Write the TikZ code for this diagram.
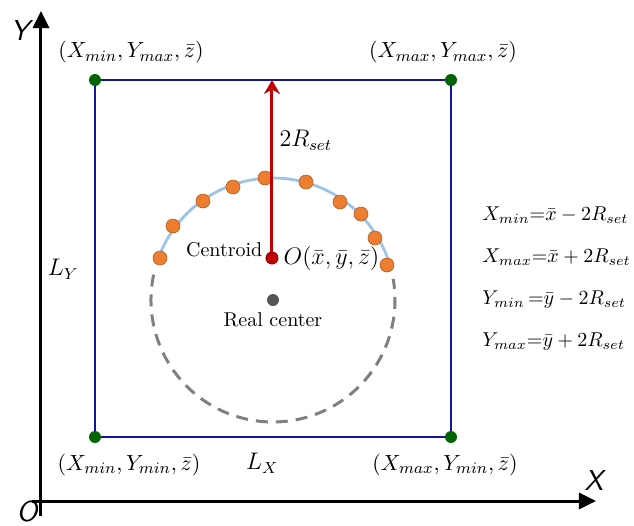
\documentclass[tikz,border=0pt]{standalone}
\usepackage{amsmath,amssymb}
\usepackage{xcolor}
\usepackage{tikz}
\usetikzlibrary{positioning,arrows.meta}
\definecolor{frameblue}{RGB}{20,20,150}
\definecolor{deepgreen}{RGB}{0,100,0}
\definecolor{deepred}{RGB}{192,0,0}
\definecolor{dotorange}{RGB}{237,125,49}
\definecolor{arcblue}{RGB}{157,195,230}
\definecolor{dashgrey}{RGB}{128,128,128}
\definecolor{darkgrey}{RGB}{85,85,85}
\tikzset{
  dot/.style={circle, inner sep=0pt, minimum size=6pt},
  cornerdot/.style={dot, fill=deepgreen},
  sampledot/.style={dot, minimum size=7pt, fill=dotorange, draw=dotorange!75!black, line width=0.3pt},
  centroiddot/.style={dot, fill=deepred, draw=deepred!70!black, line width=0.3pt},
  centerdot/.style={dot, fill=darkgrey},
  frame/.style={draw=frameblue, line width=1pt},
  axis/.style={line width=1.5pt, -{Triangle[length=8.5pt,width=8pt]}},
  redarrow/.style={draw=deepred, line width=1.5pt, -{Stealth[length=7pt,width=8pt]}},
  arcline/.style={draw=arcblue, line width=1.4pt},
  dashline/.style={draw=dashgrey, line width=1.5pt, dash pattern=on 6pt off 4pt},
  lab/.style={inner sep=1pt},
  mathlab/.style={lab, font=\large},
  cornerlab/.style={lab, font=\fontsize{11.2}{13.5}\selectfont},
  eqlab/.style={lab, font=\fontsize{10.2}{12.2}\selectfont, align=left},
  axislabel/.style={inner sep=0pt, font=\Large\sffamily\itshape},
}

\begin{document}
\begin{tikzpicture}[x=0.5pt, y=-0.5pt, font=\normalsize]
  \useasboundingbox (0,0) rectangle (634,526);

  % axes
  \coordinate (XS) at (32,501);
  \coordinate (XE) at (596,501);
  \coordinate (YS) at (41,516);
  \coordinate (YE) at (41,11);
  \draw[axis] (XS) -- (XE);
  \draw[axis] (YS) -- (YE);
  \node[axislabel] (XL) at (594,481) {X};
  \node[axislabel] (YL) at (20,31)   {Y};
  \node[axislabel] (OL) at (27,512)  {O};

  % bounding square
  \coordinate (TL) at (95,80);
  \coordinate (TR) at (451,80);
  \coordinate (BR) at (451,437);
  \coordinate (BL) at (95,437);
  \draw[frame] (TL) -- (TR) -- (BR) -- (BL) -- cycle;
  \path (TL) -- (BL) node[lab, pos=0.53, left=7pt, font=\large] (LY) {$L_Y$};
  \path (BL) -- (BR) node[lab, pos=0.47, below=7pt, font=\large] (LX) {$L_X$};

  \node[cornerdot] (TLd) at (TL) {};
  \node[cornerdot] (TRd) at (TR) {};
  \node[cornerdot] (BRd) at (BR) {};
  \node[cornerdot] (BLd) at (BL) {};
  \node[cornerlab, above=4pt of TLd, xshift=18pt]  (TLlab) {$(X_{min},Y_{max},\bar{z})$};
  \node[cornerlab, above=4pt of TRd, xshift=-4pt]  (TRlab) {$(X_{max},Y_{max},\bar{z})$};
  \node[cornerlab, below=4pt of BLd, xshift=17pt]  (BLlab) {$(X_{min},Y_{min},\bar{z})$};
  \node[cornerlab, below=4pt of BRd, xshift=-3pt]  (BRlab) {$(X_{max},Y_{min},\bar{z})$};

  % circle round the real center
  \node[centerdot] (RC) at (273,300) {};
  \node[lab, below=2pt of RC] (RClab) {Real center};
  \draw[dashline] ([shift={(168:61pt)}]RC.center) arc[start angle=168, end angle=370, radius=61pt];
  \draw[arcline]  ([shift={(160:61pt)}]RC.center) arc[start angle=160, end angle=15, radius=61pt];

  % sampled points
  \node[sampledot] (S1)  at (160,258) {}; \node[sampledot] (S2)  at (173,226) {};
  \node[sampledot] (S3)  at (203,201) {}; \node[sampledot] (S4)  at (233,187) {};
  \node[sampledot] (S5)  at (265,178) {}; \node[sampledot] (S6)  at (306,182) {};
  \node[sampledot] (S7)  at (340,202) {}; \node[sampledot] (S8)  at (361,214) {};
  \node[sampledot] (S9)  at (375,238) {}; \node[sampledot] (S10) at (387,265) {};

  % centroid and offset
  \coordinate (TOPMID) at (272,80);
  \node[centroiddot] (CEN) at (272,258) {};
  \draw[redarrow] (CEN.center) -- (TOPMID) node[mathlab, pos=0.66, right=2pt] (RLab) {$2R_{set}$};
  \node[centroiddot] (CENd) at (CEN) {};
  \node[lab, left=0.5pt of CEN, yshift=4pt] (CLab) {Centroid};
  \node[mathlab, right=1.5pt of CEN] (OLab) {$O(\bar{x},\bar{y},\bar{z})$};

  % limits
  \node[eqlab, anchor=west] (EQ) at (480,279)
    {$X_{min}{=}\bar{x}-2R_{set}$\\[8.8pt]
     $X_{max}{=}\bar{x}+2R_{set}$\\[8.8pt]
     $Y_{min}\,{=}\bar{y}-2R_{set}$\\[8.8pt]
     $Y_{max}{=}\bar{y}+2R_{set}$};
\end{tikzpicture}
\end{document}
